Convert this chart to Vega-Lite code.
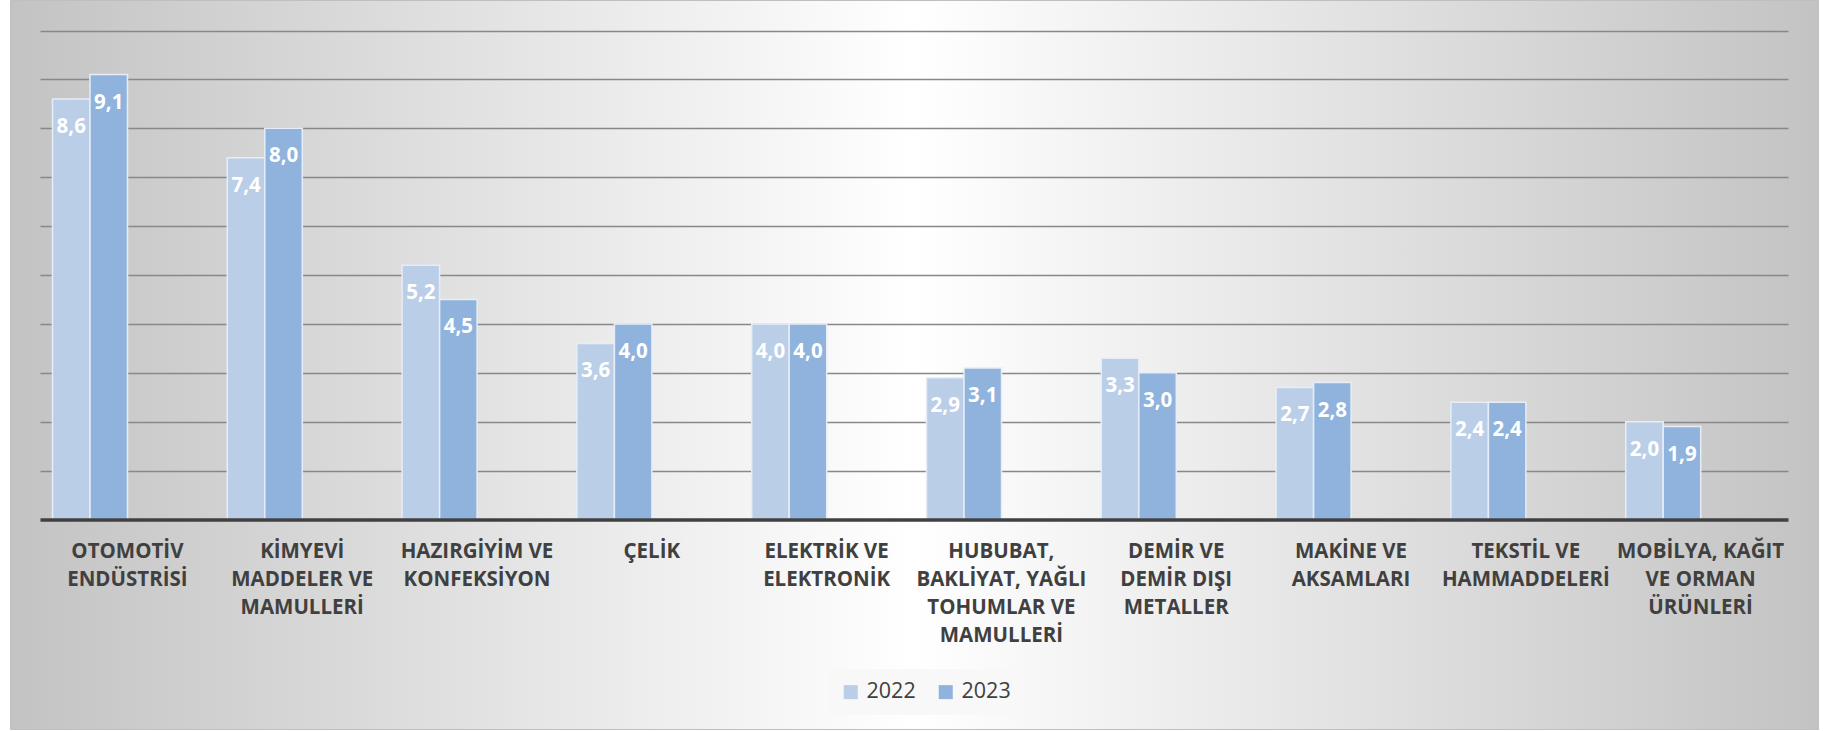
{
  "$schema": "https://vega.github.io/schema/vega-lite/v6.json",
  "width": 1808,
  "height": 729,
  "autosize": {"type": "none"},
  "padding": {"left": 10, "top": 0, "right": 5, "bottom": 2},
  "background": "#ffffff",
  "data": {
    "values": [
      {"sector": "OTOMOTİV\nENDÜSTRİSİ", "year": "2022", "value": 8.6},
      {"sector": "OTOMOTİV\nENDÜSTRİSİ", "year": "2023", "value": 9.1},
      {"sector": "KİMYEVİ\nMADDELER VE\nMAMULLERİ", "year": "2022", "value": 7.4},
      {"sector": "KİMYEVİ\nMADDELER VE\nMAMULLERİ", "year": "2023", "value": 8.0},
      {"sector": "HAZIRGİYİM VE\nKONFEKSİYON", "year": "2022", "value": 5.2},
      {"sector": "HAZIRGİYİM VE\nKONFEKSİYON", "year": "2023", "value": 4.5},
      {"sector": "ÇELİK", "year": "2022", "value": 3.6},
      {"sector": "ÇELİK", "year": "2023", "value": 4.0},
      {"sector": "ELEKTRİK VE\nELEKTRONİK", "year": "2022", "value": 4.0},
      {"sector": "ELEKTRİK VE\nELEKTRONİK", "year": "2023", "value": 4.0},
      {"sector": "HUBUBAT,\nBAKLİYAT, YAĞLI\nTOHUMLAR VE\nMAMULLERİ", "year": "2022", "value": 2.9},
      {"sector": "HUBUBAT,\nBAKLİYAT, YAĞLI\nTOHUMLAR VE\nMAMULLERİ", "year": "2023", "value": 3.1},
      {"sector": "DEMİR VE\nDEMİR DIŞI\nMETALLER", "year": "2022", "value": 3.3},
      {"sector": "DEMİR VE\nDEMİR DIŞI\nMETALLER", "year": "2023", "value": 3.0},
      {"sector": "MAKİNE VE\nAKSAMLARI", "year": "2022", "value": 2.7},
      {"sector": "MAKİNE VE\nAKSAMLARI", "year": "2023", "value": 2.8},
      {"sector": "TEKSTİL VE\nHAMMADDELERİ", "year": "2022", "value": 2.4},
      {"sector": "TEKSTİL VE\nHAMMADDELERİ", "year": "2023", "value": 2.4},
      {"sector": "MOBİLYA, KAĞIT\nVE ORMAN\nÜRÜNLERİ", "year": "2022", "value": 2.0},
      {"sector": "MOBİLYA, KAĞIT\nVE ORMAN\nÜRÜNLERİ", "year": "2023", "value": 1.9}
    ]
  },
  "encoding": {
    "x": {
      "field": "sector",
      "type": "nominal",
      "sort": null,
      "scale": {"range": [30, 1778], "paddingInner": 0, "paddingOuter": 0},
      "axis": {
        "title": null,
        "orient": "bottom",
        "offset": -209.5,
        "domainColor": "#404040",
        "domainWidth": 3.5,
        "ticks": false,
        "tickSize": 0,
        "grid": false,
        "labelExpr": "split(datum.label, '\\n')",
        "labelFont": "Open Sans",
        "labelFontWeight": "bold",
        "labelFontSize": 20.5,
        "labelColor": "#404040",
        "labelLineHeight": 28,
        "labelPadding": 22,
        "labelAngle": 0,
        "labelAlign": "center",
        "labelBaseline": "top",
        "labelLimit": 400,
        "labelOverlap": false,
        "labelBound": false,
        "zindex": 1
      }
    },
    "xOffset": {
      "field": "year",
      "type": "nominal",
      "scale": {"domain": ["2022", "2023"], "range": [12.5, 87.5], "paddingInner": 0, "paddingOuter": 0}
    },
    "y": {
      "field": "value",
      "type": "quantitative",
      "scale": {"domain": [0, 10], "range": [519.5, 30.5], "nice": false, "zero": true},
      "axis": {
        "title": null,
        "orient": "left",
        "domain": false,
        "labels": false,
        "ticks": false,
        "grid": true,
        "gridColor": "#888888",
        "gridWidth": 1.4,
        "values": [1, 2, 3, 4, 5, 6, 7, 8, 9, 10]
      }
    }
  },
  "layer": [
    {
      "mark": {"type": "bar", "stroke": "#e6edf6", "strokeWidth": 1.5},
      "encoding": {
        "color": {
          "field": "year",
          "type": "nominal",
          "scale": {"domain": ["2022", "2023"], "range": ["#bbcee8", "#8fb3dd"]},
          "legend": {
            "title": null,
            "orient": "none",
            "legendX": 818,
            "legendY": 669,
            "direction": "horizontal",
            "symbolType": "square",
            "symbolSize": 196,
            "symbolStrokeWidth": 0,
            "labelFont": "Open Sans",
            "labelFontSize": 21.5,
            "labelColor": "#404040",
            "labelOffset": 5,
            "columnPadding": 19,
            "padding": 12,
            "fillColor": "#f8f8f8"
          }
        }
      }
    },
    {
      "mark": {"type": "text", "color": "#ffffff", "font": "Open Sans", "fontWeight": "bold", "fontSize": 20.5, "baseline": "middle", "dy": 28},
      "encoding": {
        "text": {"field": "value", "type": "quantitative", "format": ".1f"}
      }
    }
  ],
  "config": {
    "locale": {
      "number": {"decimal": ",", "thousands": ".", "grouping": [3], "currency": ["", " TL"]}
    },
    "view": {
      "fill": {
        "gradient": "linear",
        "x1": 0, "y1": 0, "x2": 1, "y2": 0,
        "stops": [
          {"offset": 0, "color": "#c3c3c3"},
          {"offset": 0.5, "color": "#ffffff"},
          {"offset": 1, "color": "#c3c3c3"}
        ]
      },
      "stroke": "#bfbfbf",
      "strokeWidth": 1
    }
  }
}
